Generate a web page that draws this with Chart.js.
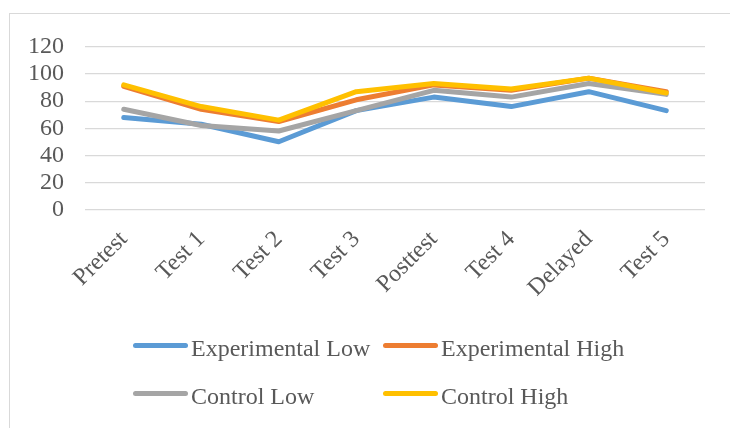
<!DOCTYPE html>
<html>
<head>
<meta charset="utf-8">
<script src="https://cdn.jsdelivr.net/npm/chart.js@4/dist/chart.umd.min.js"></script>
<style>
  html, body { margin: 0; padding: 0; background: #fff; }
  #wrap { position: relative; width: 730px; height: 428px; overflow: hidden; }
  #frame { position: absolute; left: 9px; top: 13px; width: 730px; height: 430px;
           border-left: 1px solid #D9D9D9; border-top: 1px solid #D9D9D9; pointer-events: none; }
  canvas { position: absolute; left: 0; top: 0; }
  .legend { position: absolute; left: 0; top: 0; width: 730px; height: 428px;
            font-family: "Liberation Serif", "Times New Roman", serif; font-size: 24px; color: #595959; }
  .item { position: absolute; height: 24px; line-height: 24px; white-space: nowrap; }
  .swatch { position: absolute; left: 0; top: 7px; width: 55px; height: 5px; border-radius: 3px; }
  .label { position: absolute; left: 58px; top: 0; }
</style>
</head>
<body>
<div id="wrap">
  <canvas id="c" width="730" height="428"></canvas>
  <div id="frame"></div>
  <div class="legend" id="legend"></div>
</div>
<script>
// Test sessions along the x axis
const categories = ["Pretest", "Test 1", "Test 2", "Test 3", "Posttest", "Test 4", "Delayed", "Test 5"];

// Mean scores per group
const experimentalLow  = [68, 63, 50, 73, 83, 76, 87, 73];
const experimentalHigh = [91, 74, 65, 81, 92, 88, 97, 87];
const controlLow       = [74, 62, 58, 73, 88, 83, 93, 85];
const controlHigh      = [92, 76, 66, 87, 93, 89, 97, 86];

// Y axis tick values
const yTicks = [0, 20, 40, 60, 80, 100, 120];

const seriesNames  = ["Experimental Low", "Experimental High", "Control Low", "Control High"];
const seriesData   = [experimentalLow, experimentalHigh, controlLow, controlHigh];
const seriesColors = ["#5B9BD5", "#ED7D31", "#A5A5A5", "#FFC000"];

const FONT = '"Liberation Serif", "Times New Roman", serif';
const TEXT = "#595959";
const GRID = "#D9D9D9";

const datasets = seriesNames.map((name, i) => ({
  label: name,
  data: seriesData[i],
  borderColor: seriesColors[i],
  backgroundColor: seriesColors[i],
  borderWidth: 5,
  borderCapStyle: "round",
  borderJoinStyle: "round",
  pointRadius: 0,
  pointHoverRadius: 0,
  tension: 0,
  fill: false,
  order: seriesNames.length - i   // later series drawn on top
}));

new Chart(document.getElementById("c"), {
  type: "line",
  data: { labels: categories, datasets },
  options: {
    responsive: false,
    animation: false,
    layout: { padding: { top: 47, right: 25, left: 0, bottom: 0 } },
    plugins: { legend: { display: false }, tooltip: { enabled: false } },
    scales: {
      x: {
        offset: true,
        grid: { display: false, drawTicks: false },
        border: { display: false },
        ticks: {
          color: TEXT,
          font: { family: FONT, size: 24 },
          minRotation: 45,
          maxRotation: 45,
          padding: 16,
          autoSkip: false
        },
        afterFit(scale) { scale.height = 428 - 209.5; }
      },
      y: {
        min: 0,
        max: 120,
        afterBuildTicks(scale) { scale.ticks = yTicks.map(v => ({ value: v })); },
        grid: { color: GRID, lineWidth: 1.3, drawTicks: false },
        border: { display: false },
        ticks: {
          color: TEXT,
          font: { family: FONT, size: 24 },
          padding: 21,
          autoSkip: false
        },
        afterFit(scale) { scale.width = 85; }
      }
    }
  }
});

// Two-column legend below the plot
const legend = document.getElementById("legend");
const colX = [133, 383];
const rowY = [336, 384];
seriesNames.forEach((name, i) => {
  const item = document.createElement("div");
  item.className = "item";
  item.style.left = colX[i % 2] + "px";
  item.style.top = rowY[Math.floor(i / 2)] + "px";
  const sw = document.createElement("div");
  sw.className = "swatch";
  sw.style.background = seriesColors[i];
  const lb = document.createElement("span");
  lb.className = "label";
  lb.textContent = name;
  item.appendChild(sw);
  item.appendChild(lb);
  legend.appendChild(item);
});
</script>
</body>
</html>
